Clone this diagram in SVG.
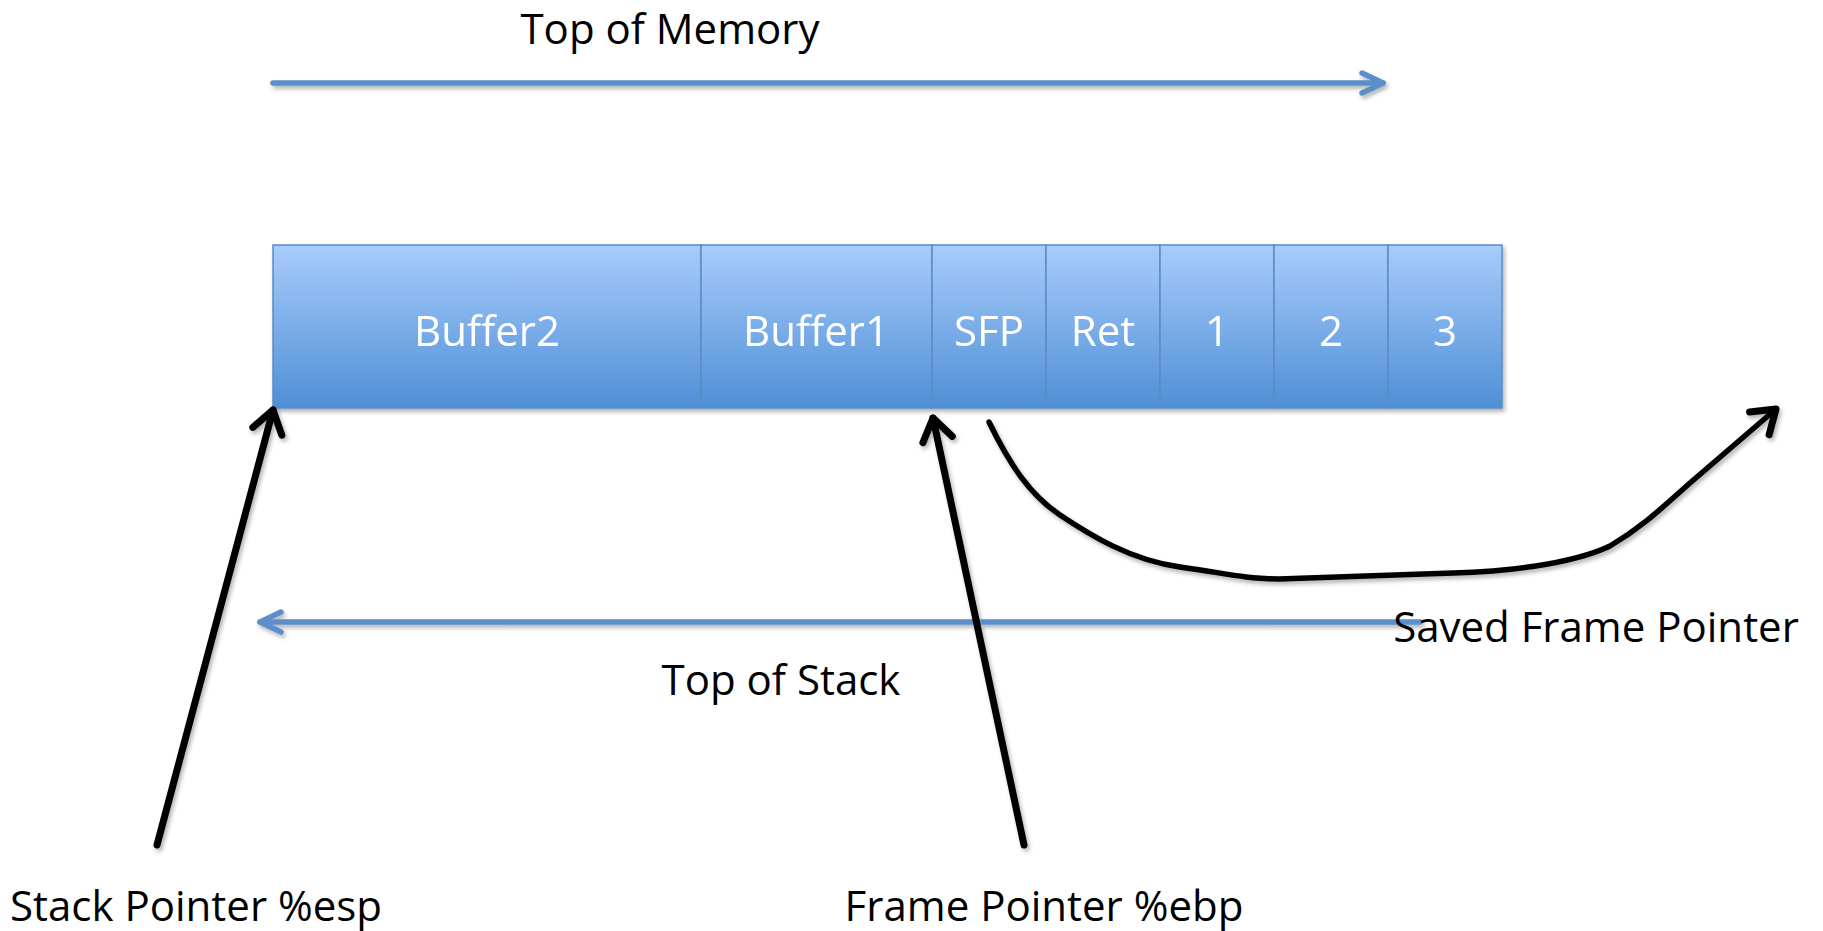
<svg xmlns="http://www.w3.org/2000/svg" width="1823" height="931" viewBox="0 0 1823 931">
  <style>
    .cell { fill: url(#cellFill); stroke: #5b8cc4; stroke-width: 1.5; }
    .cellText { font-family: "Open Sans", "Liberation Sans", sans-serif; font-size: 42px; fill: #ffffff; text-anchor: middle; }
    .label { font-family: "Open Sans", "Liberation Sans", sans-serif; font-size: 42px; fill: #000000; text-anchor: middle; }
    .blueArrow { fill: none; stroke: #5b8fc9; stroke-width: 5.5; stroke-linecap: round; }
    .blackArrow { fill: none; stroke: #000000; stroke-width: 7; stroke-linecap: round; stroke-linejoin: round; }
    .curveArrow { fill: none; stroke: #000000; stroke-width: 5.5; stroke-linecap: round; stroke-linejoin: round; }
  </style>
  <defs>
    <linearGradient id="cellFill" x1="0" y1="0" x2="0" y2="1">
      <stop offset="0" stop-color="#a8ccfb"/>
      <stop offset="1" stop-color="#4f8fd6"/>
    </linearGradient>
    <filter id="shadow" x="-5%" y="-20%" width="110%" height="150%">
      <feDropShadow dx="2" dy="3" stdDeviation="2" flood-color="#000000" flood-opacity="0.3"/>
    </filter>
    <marker id="blueHead" markerUnits="userSpaceOnUse" orient="auto" refX="0" refY="0" markerWidth="40" markerHeight="40" viewBox="-30 -20 40 40" overflow="visible">
      <path d="M-21,-10 L0,0 L-21,10" fill="none" stroke="#5b8fc9" stroke-width="5.5" stroke-linecap="round" stroke-linejoin="round"/>
    </marker>
    <marker id="blackHead" markerUnits="userSpaceOnUse" orient="auto" refX="0" refY="0" markerWidth="50" markerHeight="50" viewBox="-35 -25 50 50" overflow="visible">
      <path d="M-22,-15 L0,0 L-22,15" fill="none" stroke="#000000" stroke-width="7" stroke-linecap="round" stroke-linejoin="round"/>
    </marker>
  </defs>

  <rect width="1823" height="931" fill="#ffffff"/>

  <!-- stack frame cells -->
  <g filter="url(#shadow)">
    <g id="buffer2">
      <rect class="cell" x="273" y="245" width="428" height="163"/>
      <text class="cellText" x="487" y="346">Buffer2</text>
    </g>
    <g id="buffer1">
      <rect class="cell" x="701" y="245" width="231" height="163"/>
      <text class="cellText" x="816" y="346">Buffer1</text>
    </g>
    <g id="sfp">
      <rect class="cell" x="932" y="245" width="114" height="163"/>
      <text class="cellText" x="989" y="346">SFP</text>
    </g>
    <g id="ret">
      <rect class="cell" x="1046" y="245" width="114" height="163"/>
      <text class="cellText" x="1103" y="346">Ret</text>
    </g>
    <g id="arg1">
      <rect class="cell" x="1160" y="245" width="114" height="163"/>
      <text class="cellText" x="1217" y="346">1</text>
    </g>
    <g id="arg2">
      <rect class="cell" x="1274" y="245" width="114" height="163"/>
      <text class="cellText" x="1331" y="346">2</text>
    </g>
    <g id="arg3">
      <rect class="cell" x="1388" y="245" width="114" height="163"/>
      <text class="cellText" x="1445" y="346">3</text>
    </g>
  </g>

  <!-- arrows -->
  <g id="connectors" filter="url(#shadow)">
    <line class="blueArrow" x1="273" y1="83" x2="1383" y2="83" marker-end="url(#blueHead)"/>
    <line class="blueArrow" x1="1420" y1="622" x2="260" y2="622" marker-end="url(#blueHead)"/>
    <line class="blackArrow" x1="157" y1="845" x2="273" y2="410" marker-end="url(#blackHead)"/>
    <line class="blackArrow" x1="1024" y1="845" x2="933" y2="418" marker-end="url(#blackHead)"/>
    <path class="curveArrow" d="M989,422 C1010,465 1030,495 1060,515 S1130,560 1180,567 S1240,578 1279,579 L1453,573 C1500,572 1570,565 1610,546 C1645,525 1665,505 1690,483 L1776,409" marker-end="url(#blackHead)"/>
  </g>

  <!-- labels -->
  <g id="labels">
    <text class="label" x="670" y="44">Top of Memory</text>
    <text class="label" x="781" y="695">Top of Stack</text>
    <text class="label" x="1596" y="642">Saved Frame Pointer</text>
    <text class="label" x="196" y="921">Stack Pointer %esp</text>
    <text class="label" x="1044" y="921">Frame Pointer %ebp</text>
  </g>
</svg>
